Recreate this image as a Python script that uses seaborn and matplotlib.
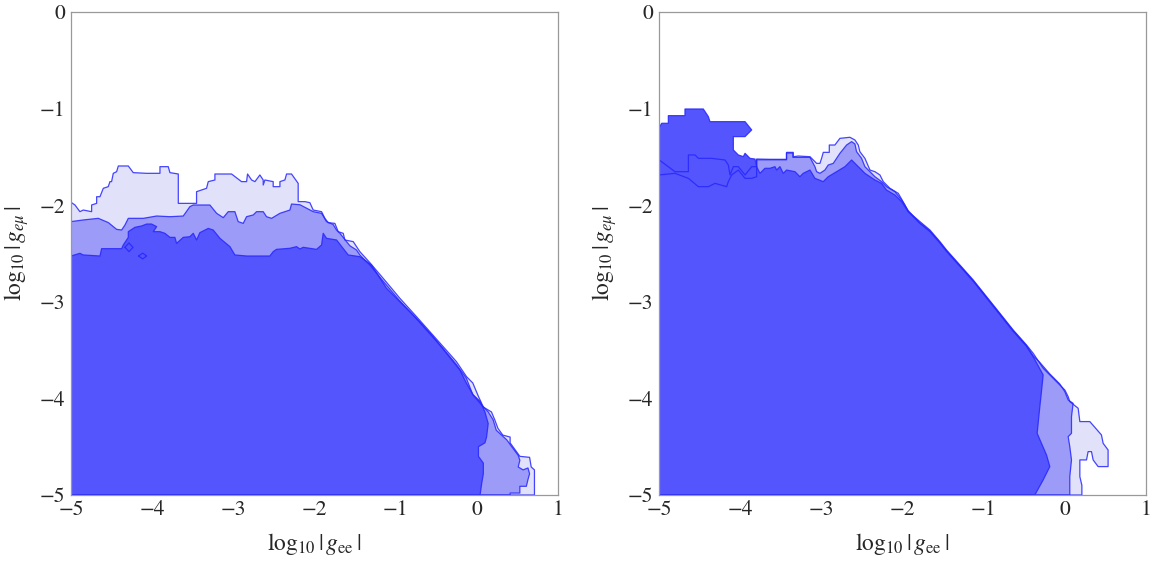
import numpy as np
import matplotlib
matplotlib.use("Agg")
import matplotlib.pyplot as plt
import seaborn as sns

# ---- left panel boundaries (log10 g_ee, log10 g_emu) ----
left_light_x = [-5.0, -4.951, -4.89, -4.849, -4.746, -4.746, -4.684, -4.684, -4.643, -4.602, -4.541, -4.52,
                -4.5, -4.479, -4.438, -4.417, -4.294, -4.233, -4.069, -3.904, -3.904, -3.802, -3.781, -3.678,
                -3.678, -3.453, -3.453, -3.33, -3.309, -3.227, -3.227, -3.022, -2.899, -2.837, -2.825, -2.775,
                -2.734, -2.673, -2.632, -2.632, -2.611, -2.509, -2.509, -2.426, -2.426, -2.365, -2.344, -2.283,
                -2.201, -2.201, -2.118, -2.057, -2.016, -1.913, -1.872, -1.831, -1.749, -1.708, -1.646, -1.626,
                -1.523, -1.441, -1.318, -1.154, -1.051, -0.948, -0.743, -0.579, -0.415, -0.251, -0.127, -0.05,
                0.02, 0.08, 0.18, 0.22, 0.26, 0.32, 0.41, 0.41, 0.47, 0.53, 0.65, 0.67, 0.71, 0.71, -5.0]
left_light_y = [-1.97, -1.998, -2.067, -2.05, -2.067, -1.998, -1.981, -1.912, -1.912, -1.825, -1.808, -1.756,
                -1.756, -1.67, -1.653, -1.594, -1.594, -1.663, -1.67, -1.67, -1.601, -1.601, -1.663, -1.677,
                -1.981, -1.981, -1.86, -1.825, -1.756, -1.739, -1.677, -1.677, -1.756, -1.756, -1.677, -1.739,
                -1.756, -1.687, -1.739, -1.791, -1.739, -1.756, -1.808, -1.808, -1.756, -1.739, -1.677, -1.677,
                -1.774, -1.963, -1.963, -1.974, -2.05, -2.067, -2.136, -2.181, -2.188, -2.274, -2.291, -2.36,
                -2.377, -2.481, -2.595, -2.757, -2.86, -2.964, -3.154, -3.309, -3.464, -3.62, -3.775, -3.84,
                -3.98, -4.09, -4.14, -4.22, -4.31, -4.38, -4.40, -4.46, -4.53, -4.60, -4.61, -4.71, -4.74, -5.0, -5.0]

left_mid_x = [-5.0, -4.85, -4.664, -4.54, -4.438, -4.376, -4.335, -4.294, -4.11, -3.945, -3.781, -3.617,
              -3.535, -3.494, -3.289, -3.206, -3.124, -3.063, -2.981, -2.94, -2.878, -2.837, -2.755, -2.714,
              -2.632, -2.591, -2.529, -2.426, -2.303, -2.283, -2.18, -2.016, -1.913, -1.852, -1.77, -1.729,
              -1.687, -1.564, -1.482, -1.441, -1.318, -1.16, -1.06, -0.96, -0.75, -0.59, -0.42, -0.26, -0.13,
              -0.05, 0.04, 0.14, 0.20, 0.24, 0.37, 0.43, 0.51, 0.53, 0.51, 0.57, 0.63, 0.65, 0.63, 0.61, 0.53,
              0.53, 0.41, 0.41, -5.0]
left_mid_y = [-2.17, -2.153, -2.136, -2.18, -2.25, -2.257, -2.205, -2.136, -2.136, -2.112, -2.119, -2.112,
              -2.015, -1.998, -1.998, -2.084, -2.129, -2.067, -2.067, -2.17, -2.188, -2.119, -2.101, -2.067,
              -2.067, -2.119, -2.136, -2.084, -2.05, -1.988, -1.995, -2.067, -2.084, -2.17, -2.2, -2.257,
              -2.291, -2.42, -2.464, -2.515, -2.619, -2.78, -2.88, -2.98, -3.17, -3.32, -3.48, -3.64, -3.79,
              -3.96, -4.05, -4.14, -4.22, -4.33, -4.43, -4.50, -4.59, -4.64, -4.71, -4.74, -4.72, -4.78, -4.84,
              -4.91, -4.91, -4.98, -4.98, -5.0, -5.0]

left_dark_x = [-5.0, -4.89, -4.85, -4.643, -4.623, -4.376, -4.356, -4.294, -4.294, -4.212, -4.13, -4.068,
               -4.007, -3.945, -3.986, -3.904, -3.843, -3.781, -3.72, -3.699, -3.617, -3.535, -3.494, -3.453,
               -3.412, -3.309, -3.248, -3.165, -3.042, -2.981, -2.837, -2.55, -2.509, -2.468, -2.303, -2.221,
               -2.18, -2.139, -1.975, -1.913, -1.893, -1.852, -1.728, -1.585, -1.441, -1.297, -1.113, -0.948,
               -0.743, -0.538, -0.374, -0.209, -0.127, -0.045, 0.04, 0.10, 0.14, 0.12, 0.10, 0.02, 0.02, 0.08,
               0.08, 0.06, 0.04, -5.0]
left_dark_y = [-2.526, -2.498, -2.515, -2.526, -2.45, -2.45, -2.412, -2.333, -2.274, -2.229, -2.215, -2.195,
               -2.195, -2.222, -2.274, -2.274, -2.291, -2.333, -2.333, -2.395, -2.333, -2.326, -2.291, -2.36,
               -2.284, -2.24, -2.257, -2.343, -2.429, -2.515, -2.526, -2.526, -2.481, -2.457, -2.446, -2.429,
               -2.453, -2.436, -2.457, -2.412, -2.291, -2.343, -2.36, -2.515, -2.533, -2.619, -2.86, -3.0,
               -3.171, -3.361, -3.533, -3.706, -3.844, -3.964, -4.03, -4.14, -4.26, -4.40, -4.46, -4.50, -4.60,
               -4.67, -4.78, -4.88, -5.0, -5.0]

# two small dark islands inside the medium band
island1_x = [-4.336, -4.286, -4.236, -4.286]
island1_y = [-2.436, -2.391, -2.436, -2.481]
island2_x = [-4.168, -4.118, -4.068, -4.118]
island2_y = [-2.526, -2.496, -2.526, -2.556]

# ---- right panel boundaries ----
right_light_x = [-5.0, -4.803, -4.638, -4.638, -4.556, -4.515, -4.351, -4.187, -4.146, -4.125, -4.084, -4.023,
                 -3.94, -3.858, -3.797, -3.797, -3.633, -3.428, -3.428, -3.346, -3.346, -3.284, -3.14, -3.058,
                 -3.017, -2.997, -2.976, -2.902, -2.902, -2.833, -2.771, -2.648, -2.586, -2.545, -2.525, -2.463,
                 -2.401, -2.34, -2.278, -2.237, -2.155, -2.052, -1.97, -1.929, -1.785, -1.662, -1.539, -1.457,
                 -1.293, -1.129, -0.964, -0.8, -0.636, -0.472, -0.39, -0.267, -0.103, 0.0, 0.041, 0.061, 0.164,
                 0.185, 0.308, 0.451, 0.472, 0.533, 0.533, 0.41, 0.349, 0.328, 0.287, 0.267, 0.185, 0.185, 0.21,
                 0.21, -5.0]
right_light_y = [-1.53, -1.653, -1.653, -1.48, -1.48, -1.515, -1.515, -1.532, -1.584, -1.687, -1.601, -1.601,
                 -1.687, -1.601, -1.601, -1.522, -1.525, -1.525, -1.453, -1.453, -1.498, -1.491, -1.498, -1.567,
                 -1.567, -1.515, -1.453, -1.453, -1.377, -1.377, -1.308, -1.297, -1.325, -1.377, -1.446, -1.515,
                 -1.636, -1.653, -1.687, -1.756, -1.825, -1.877, -1.998, -2.067, -2.17, -2.257, -2.377, -2.464,
                 -2.619, -2.774, -2.947, -3.119, -3.292, -3.447, -3.533, -3.688, -3.826, -3.913, -3.982, -4.033,
                 -4.102, -4.24, -4.24, -4.378, -4.465, -4.534, -4.706, -4.706, -4.637, -4.551, -4.551, -4.637,
                 -4.637, -4.81, -4.9, -5.0, -5.0]

right_mid_x = [-5.0, -4.803, -4.638, -4.515, -4.392, -4.31, -4.166, -4.146, -4.105, -4.023, -3.94, -3.858,
               -3.797, -3.797, -3.633, -3.43, -3.43, -3.35, -3.35, -3.14, -3.079, -3.058, -3.017, -2.956,
               -2.915, -2.853, -2.771, -2.689, -2.627, -2.586, -2.566, -2.504, -2.463, -2.401, -2.34, -2.258,
               -2.197, -2.094, -2.011, -1.929, -1.79, -1.665, -1.54, -1.46, -1.295, -1.13, -0.966, -0.802,
               -0.638, -0.474, -0.392, -0.31, -0.186, -0.063, 0.0, 0.041, 0.102, 0.082, 0.082, 0.041, 0.061,
               0.082, 0.061, 0.061, -5.0]
right_mid_y = [-1.687, -1.67, -1.722, -1.808, -1.808, -1.774, -1.808, -1.756, -1.687, -1.636, -1.722, -1.722,
               -1.705, -1.53, -1.53, -1.53, -1.46, -1.46, -1.505, -1.505, -1.601, -1.653, -1.67, -1.636,
               -1.584, -1.567, -1.463, -1.377, -1.342, -1.366, -1.446, -1.515, -1.601, -1.653, -1.705, -1.756,
               -1.808, -1.86, -1.946, -2.057, -2.18, -2.265, -2.385, -2.47, -2.625, -2.78, -2.953, -3.125,
               -3.298, -3.453, -3.557, -3.626, -3.746, -3.85, -3.93, -4.016, -4.051, -4.189, -4.361, -4.396,
               -4.499, -4.637, -4.81, -5.0, -5.0]

right_dark_x = [-5.0, -4.967, -4.885, -4.885, -4.68, -4.68, -4.454, -4.392, -4.372, -3.94, -3.858, -3.94,
                -4.084, -4.084, -4.023, -3.961, -3.94, -3.879, -3.817, -3.797, -3.756, -3.695, -3.633, -3.571,
                -3.551, -3.51, -3.469, -3.428, -3.325, -3.264, -3.223, -3.14, -3.079, -2.976, -2.915, -2.812,
                -2.709, -2.627, -2.545, -2.463, -2.401, -2.34, -2.258, -2.197, -2.094, -2.011, -1.929, -1.79,
                -1.665, -1.54, -1.46, -1.295, -1.13, -0.966, -0.802, -0.638, -0.474, -0.39, -0.267, -0.288,
                -0.308, -0.341, -0.288, -0.226, -0.185, -0.267, -0.37, -5.0]
right_dark_y = [-1.2, -1.152, -1.152, -1.073, -1.073, -1.004, -1.004, -1.083, -1.135, -1.135, -1.221, -1.29,
                -1.29, -1.428, -1.48, -1.497, -1.463, -1.515, -1.522, -1.601, -1.67, -1.618, -1.618, -1.601,
                -1.636, -1.601, -1.67, -1.636, -1.653, -1.705, -1.67, -1.636, -1.722, -1.756, -1.705, -1.653,
                -1.601, -1.532, -1.601, -1.67, -1.705, -1.739, -1.774, -1.843, -1.894, -1.964, -2.067, -2.185,
                -2.27, -2.39, -2.475, -2.63, -2.785, -2.958, -3.13, -3.303, -3.458, -3.568, -3.757, -3.93,
                -4.085, -4.361, -4.465, -4.585, -4.706, -4.844, -5.0, -5.0]

xticks = [-5, -4, -3, -2, -1, 0, 1]
yticks = [-5, -4, -3, -2, -1, 0]

light_col = "#e1e1fa"
mid_col = "#9c9cf8"
dark_col = "#5555fe"
edge_col = "#2626ff"

sns.set_style("white")
plt.rcParams["font.family"] = ["STIXGeneral", "DejaVu Serif"]
plt.rcParams["mathtext.fontset"] = "stix"

fig = plt.figure(figsize=(11.56, 5.67), dpi=100)
ax1 = fig.add_axes([71 / 1156, 1 - 495 / 567, 487 / 1156, 483 / 567])
ax2 = fig.add_axes([659 / 1156, 1 - 495 / 567, 487 / 1156, 483 / 567])

panels = [
    (ax1, [(left_light_x, left_light_y, light_col), (left_mid_x, left_mid_y, mid_col),
           (left_dark_x, left_dark_y, dark_col), (island1_x, island1_y, dark_col),
           (island2_x, island2_y, dark_col)]),
    (ax2, [(right_light_x, right_light_y, light_col), (right_mid_x, right_mid_y, mid_col),
           (right_dark_x, right_dark_y, dark_col)]),
]

for ax, regions in panels:
    for xs, ys, col in regions:
        ax.fill(xs, ys, color=col, lw=0, zorder=1)
    # outlines on top so the lower contours show through the dark region
    for xs, ys, col in regions:
        sns.lineplot(x=xs + [xs[0]], y=ys + [ys[0]], sort=False, estimator=None,
                     color=edge_col, lw=0.9, alpha=0.85, ax=ax, zorder=2)
    ax.set_xlim(-5, 1)
    ax.set_ylim(-5, 0)
    ax.set_xticks(xticks)
    ax.set_yticks(yticks)
    ax.set_xticks(np.arange(-5, 1.01, 0.2), minor=True)
    ax.set_yticks(np.arange(-5, 0.01, 0.2), minor=True)
    ax.tick_params(which="both", direction="in", top=False, right=False, color="#888888",
                   labelsize=15.5, pad=4)
    ax.tick_params(which="major", length=7, width=0.8)
    ax.tick_params(which="minor", length=4, width=0.6)
    for sp in ax.spines.values():
        sp.set_color("#999999")
        sp.set_linewidth(0.9)
    ax.set_xlabel(r"$\log_{10}|\,g_{\mathrm{ee}}\,|$", fontsize=17, labelpad=8)
    ax.set_ylabel(r"$\log_{10}|\,g_{e\mu}\,|$", fontsize=17, labelpad=6)

fig.savefig("out.png", dpi=100)
